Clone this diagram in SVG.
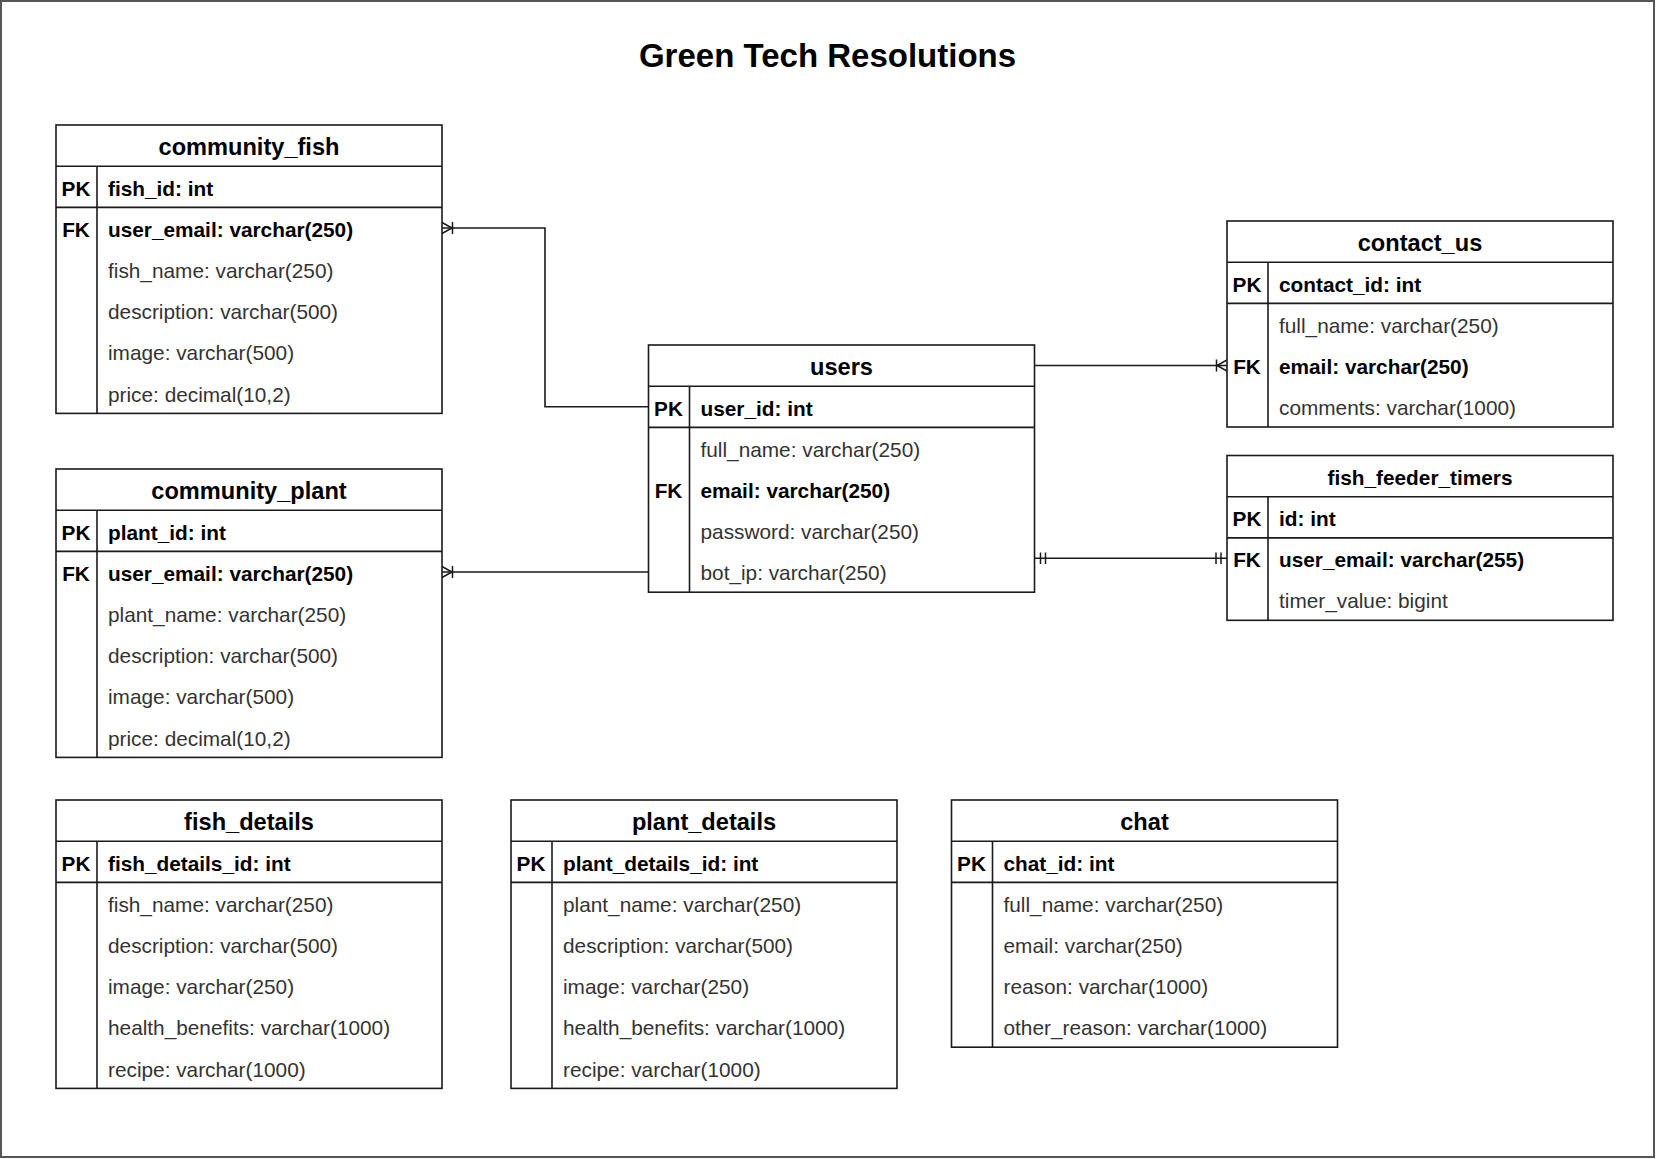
<svg xmlns="http://www.w3.org/2000/svg" width="1656" height="1159" viewBox="0 0 1656 1159">
<style>
text{font-family:"Liberation Sans",Arial,Helvetica,sans-serif;}
.box{fill:#fff;stroke:#1a1a1a;stroke-width:1.6;}
.ln{stroke:#1a1a1a;stroke-width:1.6;fill:none;}
.hdr{font-size:23.6px;font-weight:bold;text-anchor:middle;fill:#000;}
.hdrs{font-size:20.8px;font-weight:bold;text-anchor:middle;fill:#000;}
.key{font-size:20.8px;font-weight:bold;text-anchor:middle;fill:#000;}
.b{font-size:20.8px;font-weight:bold;fill:#000;}
.r{font-size:20.8px;fill:#333;}
.title{font-size:33px;font-weight:bold;text-anchor:middle;fill:#000;}
.conn{stroke:#1a1a1a;stroke-width:1.6;fill:none;}
</style>
<defs>
<marker id="oneMany" viewBox="-14 -8 16 16" refX="0" refY="0" markerWidth="16" markerHeight="16" markerUnits="userSpaceOnUse" orient="auto-start-reverse">
<path d="M0,-5.5 L-10,0 L0,5.5 M-10.5,-6 V6" fill="none" stroke="#1a1a1a" stroke-width="1.5"/>
</marker>
<marker id="mandOne" viewBox="-14 -8 16 16" refX="0" refY="0" markerWidth="16" markerHeight="16" markerUnits="userSpaceOnUse" orient="auto-start-reverse">
<path d="M-6,-5.7 V5.7 M-11,-5.7 V5.7" fill="none" stroke="#1a1a1a" stroke-width="1.5"/>
</marker>
</defs>
<rect x="0" y="0" width="1656" height="1159" fill="#fff"/>
<rect x="1" y="1" width="1653" height="1156" fill="none" stroke="#555" stroke-width="2"/>
<text class="title" x="827.5" y="66.7">Green Tech Resolutions</text>

<g id="connectors">
<path class="conn" d="M442,228 H545 V406.8 H648.5" marker-start="url(#oneMany)"/>
<path class="conn" d="M442,572 H648.5" marker-start="url(#oneMany)"/>
<path class="conn" d="M1034.5,365.5 H1227" marker-end="url(#oneMany)"/>
<path class="conn" d="M1034.5,558.3 H1227" marker-start="url(#mandOne)" marker-end="url(#mandOne)"/>
</g>

<g id="community_fish">
<rect class="box" x="56" y="125" width="386" height="288.4"/>
<line class="ln" x1="56" y1="166.2" x2="442" y2="166.2"/>
<line class="ln" x1="56" y1="207.4" x2="442" y2="207.4"/>
<line class="ln" x1="97" y1="166.2" x2="97" y2="413.4"/>
<text class="hdr" x="249" y="155">community_fish</text>
<text class="key" x="76" y="195.5">PK</text>
<text class="b" x="108" y="195.5">fish_id: int</text>
<text class="key" x="76" y="236.7">FK</text>
<text class="b" x="108" y="236.7">user_email: varchar(250)</text>
<text class="r" x="108" y="277.9">fish_name: varchar(250)</text>
<text class="r" x="108" y="319.1">description: varchar(500)</text>
<text class="r" x="108" y="360.3">image: varchar(500)</text>
<text class="r" x="108" y="401.5">price: decimal(10,2)</text>
</g>

<g id="community_plant">
<rect class="box" x="56" y="469" width="386" height="288.4"/>
<line class="ln" x1="56" y1="510.2" x2="442" y2="510.2"/>
<line class="ln" x1="56" y1="551.4" x2="442" y2="551.4"/>
<line class="ln" x1="97" y1="510.2" x2="97" y2="757.4"/>
<text class="hdr" x="249" y="499">community_plant</text>
<text class="key" x="76" y="539.5">PK</text>
<text class="b" x="108" y="539.5">plant_id: int</text>
<text class="key" x="76" y="580.7">FK</text>
<text class="b" x="108" y="580.7">user_email: varchar(250)</text>
<text class="r" x="108" y="621.9">plant_name: varchar(250)</text>
<text class="r" x="108" y="663.1">description: varchar(500)</text>
<text class="r" x="108" y="704.3">image: varchar(500)</text>
<text class="r" x="108" y="745.5">price: decimal(10,2)</text>
</g>

<g id="fish_details">
<rect class="box" x="56" y="800" width="386" height="288.4"/>
<line class="ln" x1="56" y1="841.2" x2="442" y2="841.2"/>
<line class="ln" x1="56" y1="882.4" x2="442" y2="882.4"/>
<line class="ln" x1="97" y1="841.2" x2="97" y2="1088.4"/>
<text class="hdr" x="249" y="830">fish_details</text>
<text class="key" x="76" y="870.5">PK</text>
<text class="b" x="108" y="870.5">fish_details_id: int</text>
<text class="r" x="108" y="911.7">fish_name: varchar(250)</text>
<text class="r" x="108" y="952.9">description: varchar(500)</text>
<text class="r" x="108" y="994.1">image: varchar(250)</text>
<text class="r" x="108" y="1035.3">health_benefits: varchar(1000)</text>
<text class="r" x="108" y="1076.5">recipe: varchar(1000)</text>
</g>

<g id="plant_details">
<rect class="box" x="511" y="800" width="386" height="288.4"/>
<line class="ln" x1="511" y1="841.2" x2="897" y2="841.2"/>
<line class="ln" x1="511" y1="882.4" x2="897" y2="882.4"/>
<line class="ln" x1="552" y1="841.2" x2="552" y2="1088.4"/>
<text class="hdr" x="704" y="830">plant_details</text>
<text class="key" x="531" y="870.5">PK</text>
<text class="b" x="563" y="870.5">plant_details_id: int</text>
<text class="r" x="563" y="911.7">plant_name: varchar(250)</text>
<text class="r" x="563" y="952.9">description: varchar(500)</text>
<text class="r" x="563" y="994.1">image: varchar(250)</text>
<text class="r" x="563" y="1035.3">health_benefits: varchar(1000)</text>
<text class="r" x="563" y="1076.5">recipe: varchar(1000)</text>
</g>

<g id="chat">
<rect class="box" x="951.5" y="800" width="386" height="247.2"/>
<line class="ln" x1="951.5" y1="841.2" x2="1337.5" y2="841.2"/>
<line class="ln" x1="951.5" y1="882.4" x2="1337.5" y2="882.4"/>
<line class="ln" x1="992.5" y1="841.2" x2="992.5" y2="1047.2"/>
<text class="hdr" x="1144.5" y="830">chat</text>
<text class="key" x="971.5" y="870.5">PK</text>
<text class="b" x="1003.5" y="870.5">chat_id: int</text>
<text class="r" x="1003.5" y="911.7">full_name: varchar(250)</text>
<text class="r" x="1003.5" y="952.9">email: varchar(250)</text>
<text class="r" x="1003.5" y="994.1">reason: varchar(1000)</text>
<text class="r" x="1003.5" y="1035.3">other_reason: varchar(1000)</text>
</g>

<g id="users">
<rect class="box" x="648.5" y="345" width="386" height="247.2"/>
<line class="ln" x1="648.5" y1="386.2" x2="1034.5" y2="386.2"/>
<line class="ln" x1="648.5" y1="427.4" x2="1034.5" y2="427.4"/>
<line class="ln" x1="689.5" y1="386.2" x2="689.5" y2="592.2"/>
<text class="hdr" x="841.5" y="375">users</text>
<text class="key" x="668.5" y="415.5">PK</text>
<text class="b" x="700.5" y="415.5">user_id: int</text>
<text class="r" x="700.5" y="456.7">full_name: varchar(250)</text>
<text class="key" x="668.5" y="497.9">FK</text>
<text class="b" x="700.5" y="497.9">email: varchar(250)</text>
<text class="r" x="700.5" y="539.1">password: varchar(250)</text>
<text class="r" x="700.5" y="580.3">bot_ip: varchar(250)</text>
</g>

<g id="contact_us">
<rect class="box" x="1227" y="221" width="386" height="206"/>
<line class="ln" x1="1227" y1="262.2" x2="1613" y2="262.2"/>
<line class="ln" x1="1227" y1="303.4" x2="1613" y2="303.4"/>
<line class="ln" x1="1268" y1="262.2" x2="1268" y2="427"/>
<text class="hdr" x="1420" y="251">contact_us</text>
<text class="key" x="1247" y="291.5">PK</text>
<text class="b" x="1279" y="291.5">contact_id: int</text>
<text class="r" x="1279" y="332.7">full_name: varchar(250)</text>
<text class="key" x="1247" y="373.9">FK</text>
<text class="b" x="1279" y="373.9">email: varchar(250)</text>
<text class="r" x="1279" y="415.1">comments: varchar(1000)</text>
</g>

<g id="fish_feeder_timers">
<rect class="box" x="1227" y="455.5" width="386" height="164.8"/>
<line class="ln" x1="1227" y1="496.7" x2="1613" y2="496.7"/>
<line class="ln" x1="1227" y1="537.9" x2="1613" y2="537.9"/>
<line class="ln" x1="1268" y1="496.7" x2="1268" y2="620.3"/>
<text class="hdrs" x="1420" y="485">fish_feeder_timers</text>
<text class="key" x="1247" y="526">PK</text>
<text class="b" x="1279" y="526">id: int</text>
<text class="key" x="1247" y="567.2">FK</text>
<text class="b" x="1279" y="567.2">user_email: varchar(255)</text>
<text class="r" x="1279" y="608.4">timer_value: bigint</text>
</g>
</svg>
